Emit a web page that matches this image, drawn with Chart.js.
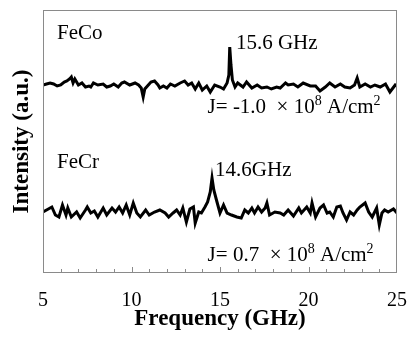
<!DOCTYPE html>
<html>
<head>
<meta charset="utf-8">
<script src="https://cdn.jsdelivr.net/npm/chart.js@4"></script>
<style>
  html, body { margin: 0; padding: 0; background: #fff; }
  #wrap { width: 417px; height: 340px; }
</style>
</head>
<body>
<div id="wrap"><canvas id="spectrum"></canvas></div>
<script>
// FeCo trace (current J = -1.0e8 A/cm2)
const feCoFreq = [5.0,5.2,5.4,5.6,5.8,6.0,6.2,6.35,6.5,6.6,6.7,6.8,7.0,7.2,7.4,7.6,7.7,7.85,
    8.1,8.4,8.6,8.8,9.0,9.25,9.45,9.6,9.9,10.2,10.4,10.55,10.66,10.75,10.85,11.1,11.3,11.5,
    11.6,11.8,12.0,12.2,12.45,12.75,13.0,13.2,13.4,13.6,13.8,14.0,14.25,14.45,14.7,15.0,15.2,15.4,
    15.5,15.55,15.62,15.7,15.85,16.0,16.3,16.5,16.8,17.1,17.35,17.65,17.9,18.2,18.4,18.7,18.85,19.15,
    19.4,19.7,20.1,20.4,20.65,20.95,21.2,21.5,21.8,22.05,22.35,22.6,22.75,22.9,23.2,23.5,23.75,24.05,
    24.35,24.6,24.9,25.0];
const feCoVals = [188,189,190,189,187,188,191,192,194,196,190,194,188,190,186,187,186,190,
    188,189,186,187,189,186,190,191,188,190,188,185,176,184,186,191,192,188,
    185,187,185,189,187,190,192,188,190,184,190,183,187,181,188,186,184,190,
    198,226,208,193,186,190,186,191,185,188,185,186,184,186,185,190,188,189,
    186,190,187,187,182,186,190,186,189,186,185,188,195,186,189,186,188,186,
    189,181,188,187];

// FeCr trace (current J = 0.7e8 A/cm2)
const feCrFreq = [5.0,5.2,5.5,5.7,5.9,6.1,6.3,6.4,6.6,6.9,7.1,7.4,7.5,7.7,7.9,8.1,8.4,8.6,
    8.9,9.1,9.3,9.5,9.7,9.9,10.1,10.3,10.5,10.8,11.0,11.3,11.6,11.9,12.1,12.35,12.55,12.75,
    12.9,13.1,13.3,13.5,13.6,13.8,13.95,14.15,14.3,14.45,14.55,14.65,14.8,15.0,15.2,15.4,15.65,15.95,
    16.2,16.4,16.6,16.8,16.95,17.15,17.35,17.55,17.65,17.8,18.1,18.4,18.6,18.85,19.15,19.45,19.6,19.9,
    20.1,20.2,20.4,20.65,20.85,21.05,21.2,21.4,21.6,21.8,21.95,22.15,22.35,22.55,22.75,22.9,23.2,23.4,
    23.6,23.85,24.0,24.15,24.3,24.5,24.8,25.0];
const feCrVals = [61,63,66,58,56,68,58,65,56,61,55,63,66,60,62,56,65,58,
    65,61,66,60,68,58,70,60,56,63,58,61,63,60,56,60,63,58,
    65,51,64,66,50,61,60,66,71,81,95,83,73,60,68,60,58,56,
    55,63,60,65,60,66,61,65,70,58,61,60,58,63,57,65,60,66,
    60,70,56,65,68,60,61,56,66,67,60,53,61,58,63,66,70,61,
    56,65,48,60,63,61,64,60];

const xTickLabels = [5, 10, 15, 20, 25];

const serif = '"Liberation Serif", "Times New Roman", serif';

function toPoints(xs, ys) {
    return xs.map((x, i) => ({ x: x, y: ys[i] }));
}

// frame, inward ticks and text labels
const decorations = {
    id: 'decorations',
    afterDraw(chart) {
        const { ctx, chartArea: a, scales } = chart;
        const xs = scales.x, ys = scales.y;
        ctx.save();
        ctx.strokeStyle = '#8a8a8a';
        ctx.lineWidth = 1;
        ctx.strokeRect(a.left + 0.5, a.top + 0.5, a.right - a.left - 1, a.bottom - a.top - 1);
        ctx.beginPath();
        for (let f = 6; f < 25; f++) {
            const px = Math.round(xs.getPixelForValue(f)) + 0.5;
            const len = f % 5 === 0 ? 6 : 4;
            ctx.moveTo(px, a.bottom);
            ctx.lineTo(px, a.bottom - len);
        }
        ctx.stroke();

        ctx.fillStyle = '#000';
        ctx.textBaseline = 'middle';
        const put = (parts, fx, fy) => {
            let px = xs.getPixelForValue(fx);
            const py = ys.getPixelForValue(fy);
            parts.forEach(p => {
                ctx.font = (p.sup ? '14px ' : '21px ') + serif;
                ctx.fillText(p.t, px, p.sup ? py - 6 : py);
                px += ctx.measureText(p.t).width;
            });
        };
        put([{ t: 'FeCo' }], 5.79, 240);
        put([{ t: '15.6 GHz' }], 15.9, 230);
        put([{ t: 'J= -1.0  \u00d7 10' }, { t: '8', sup: true }, { t: ' A/cm' }, { t: '2', sup: true }], 14.3, 166);
        put([{ t: 'FeCr' }], 5.79, 111);
        put([{ t: '14.6GHz' }], 14.72, 103);
        put([{ t: 'J= 0.7  \u00d7 10' }, { t: '8', sup: true }, { t: ' A/cm' }, { t: '2', sup: true }], 14.3, 18);
        ctx.restore();
    }
};

new Chart(document.getElementById('spectrum'), {
    type: 'line',
    data: {
        datasets: [{
            label: 'FeCo',
            data: toPoints(feCoFreq, feCoVals),
            borderColor: '#000',
            borderWidth: 3,
            pointRadius: 0,
            tension: 0
        }, {
            label: 'FeCr',
            data: toPoints(feCrFreq, feCrVals),
            borderColor: '#000',
            borderWidth: 3,
            pointRadius: 0,
            tension: 0
        }]
    },
    options: {
        responsive: true,
        maintainAspectRatio: false,
        animation: false,
        layout: { padding: { top: 10, right: 20, left: 0, bottom: 0 } },
        plugins: {
            legend: { display: false },
            tooltip: { enabled: false }
        },
        scales: {
            x: {
                type: 'linear',
                min: 5,
                max: 25,
                grid: { display: false },
                border: { display: false },
                afterBuildTicks: (scale) => {
                    scale.ticks = xTickLabels.map(v => ({ value: v }));
                },
                afterFit: (scale) => { scale.height = 67; },
                ticks: {
                    color: '#000',
                    padding: 8,
                    maxRotation: 0,
                    font: { family: serif, size: 20 }
                },
                title: {
                    display: true,
                    text: 'Frequency (GHz)',
                    color: '#000',
                    padding: { top: 2, bottom: 7 },
                    font: { family: serif, size: 23, weight: 'bold' }
                }
            },
            y: {
                min: 0,
                max: 263,
                grid: { display: false },
                border: { display: false },
                ticks: { display: false },
                afterFit: (scale) => { scale.width = 43; },
                title: {
                    display: true,
                    text: 'Intensity (a.u.)',
                    color: '#000',
                    padding: { top: 8, bottom: 0 },
                    font: { family: serif, size: 23, weight: 'bold' }
                }
            }
        }
    },
    plugins: [decorations]
});
</script>
</body>
</html>
